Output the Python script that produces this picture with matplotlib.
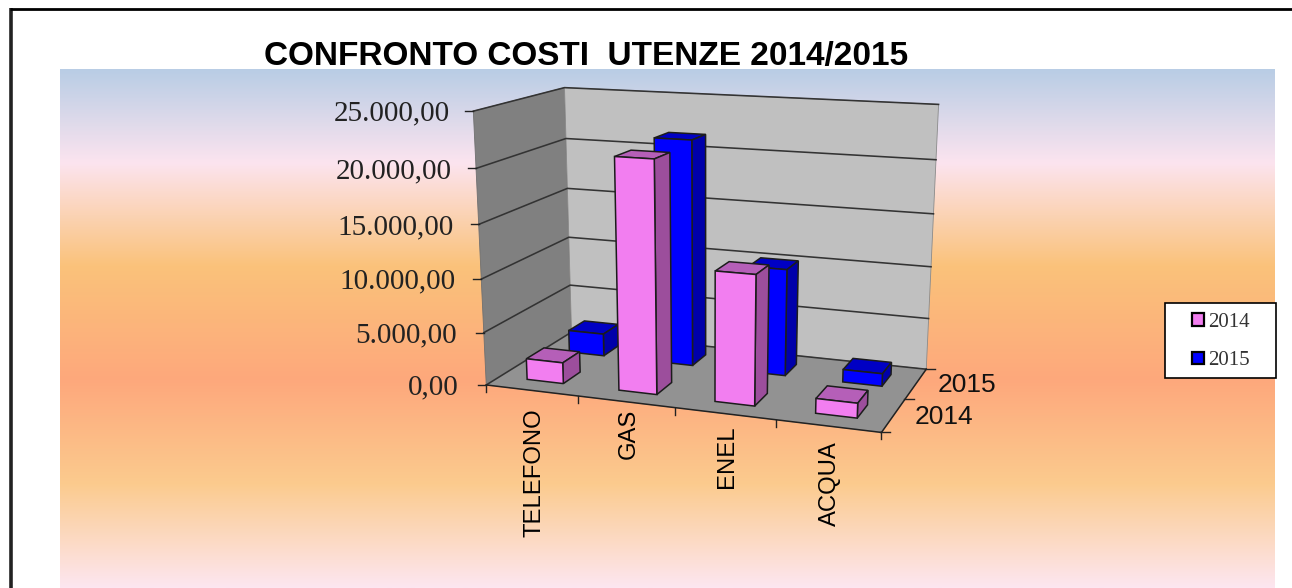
#!/usr/bin/env python3
import numpy as np
import matplotlib
matplotlib.use("Agg")
import matplotlib.pyplot as plt
from matplotlib.colors import LinearSegmentedColormap
from matplotlib.patches import Patch, Polygon, Rectangle

categories = ["TELEFONO", "GAS", "ENEL", "ACQUA"]
series_names = ["2014", "2015"]
costs_2014 = [2000, 21300, 11900, 1350]
costs_2015 = [2200, 21600, 10200, 1200]
y_ticks = [0, 5000, 10000, 15000, 20000, 25000]
y_tick_labels = ["0,00", "5.000,00", "10.000,00", "15.000,00", "20.000,00", "25.000,00"]
Z_MAX = 25000

# pixel positions of the plot box, used to fit the 3D view
calib_world = []
calib_px = []
left_front = [(473.3, 111.7), (476.7, 168.3), (478.3, 224), (481, 279), (484.3, 332.7), (486.7, 384.3)]
back_left = [(565, 87.7), (565.7, 138.3), (566.7, 187.7), (568.3, 236.7), (570, 285.7), (572.7, 332.7)]
back_right = [(939, 104.3), (936, 160), (933.3, 214), (930.7, 267.3), (928.3, 319), (926.7, 368.3)]
for (wx, wy), col in (((0, 0), left_front), ((0, 2), back_left), ((4, 2), back_right)):
    for k, p in enumerate(col):
        calib_world.append((wx, wy, 25000 - 5000 * k))
        calib_px.append(p)
for w, p in [((4, 0, 0), (882.7, 431.7)), ((1, 0, 0), (577.3, 396.7)), ((2, 0, 0), (674, 408.3)),
             ((3, 0, 0), (775, 420)), ((4, 1, 0), (905, 398.3))]:
    calib_world.append(w)
    calib_px.append(p)


def fit_camera(world, px):
    rows, rhs = [], []
    for (x, y, z), (u, v) in zip(world, px):
        z = z / Z_MAX
        rows.append([x, y, z, 1, 0, 0, 0, 0, -u * x, -u * y, -u * z])
        rhs.append(u)
        rows.append([0, 0, 0, 0, x, y, z, 1, -v * x, -v * y, -v * z])
        rhs.append(v)
    h = np.linalg.lstsq(np.array(rows), np.array(rhs), rcond=None)[0]
    return np.append(h, 1.0).reshape(3, 4)


CAM = fit_camera(calib_world, calib_px)


def proj(x, y, z):
    u, v, w = CAM @ np.array([x, y, z / Z_MAX, 1.0])
    return u / w, v / w


def poly(ax, pts, color, zorder=3, ec="#1c1c1c", lw=1.1):
    ax.add_patch(Polygon([proj(*p) for p in pts], closed=True, fc=color, ec=ec, lw=lw, zorder=zorder))


def draw_bar(ax, cat, row, value, colors, zorder):
    x0, x1 = cat + 0.3, cat + 0.7
    y0, y1 = row + 0.3, row + 0.7
    poly(ax, [(x0, y0, value), (x1, y0, value), (x1, y1, value), (x0, y1, value)], colors[1], zorder)
    poly(ax, [(x1, y0, 0), (x1, y1, 0), (x1, y1, value), (x1, y0, value)], colors[2], zorder)
    poly(ax, [(x0, y0, 0), (x1, y0, 0), (x1, y0, value), (x0, y0, value)], colors[0], zorder)


def main():
    fig = plt.figure(figsize=(12.92, 5.88), dpi=100, facecolor="white")
    ax = fig.add_axes([0, 0, 1, 1])
    ax.set_xlim(0, 1292)
    ax.set_ylim(588, 0)
    ax.axis("off")

    # chart area gradient
    cmap = LinearSegmentedColormap.from_list(
        "bg",
        [(0.0, "#B9CDE5"), (0.18, "#FCE4EF"), (0.38, "#FAC27A"), (0.6, "#FEA87C"),
         (0.8, "#FBCB8E"), (1.0, "#FDE6F0")],
    )
    grad = np.linspace(0, 1, 256).reshape(-1, 1)
    ax.imshow(grad, cmap=cmap, extent=(60, 1275, 588, 69), aspect="auto", zorder=0)
    ax.set_xlim(0, 1292)
    ax.set_ylim(588, 0)

    # outer frame, left and top only
    ax.plot([11, 11], [588, 8], color="#222222", lw=2.6, zorder=1, solid_capstyle="butt")
    ax.plot([10, 1292], [8.5, 8.5], color="black", lw=2.0, zorder=1, solid_capstyle="butt")

    # walls
    poly(ax, [(0, 0, 0), (0, 2, 0), (0, 2, Z_MAX), (0, 0, Z_MAX)], "#808080", 1, ec="#707070", lw=0.6)
    poly(ax, [(0, 2, 0), (4, 2, 0), (4, 2, Z_MAX), (0, 2, Z_MAX)], "#C0C0C0", 1, ec="#8a8a8a", lw=0.6)
    poly(ax, [(0, 0, 0), (4, 0, 0), (4, 2, 0), (0, 2, 0)], "#929292", 1, ec="#929292", lw=0.6)

    for t, lab in zip(y_ticks, y_tick_labels):
        pts = [proj(0, 0, t), proj(0, 2, t), proj(4, 2, t)]
        ax.plot(*zip(*pts), color="#333333", lw=1.15, zorder=2)
        u, v = pts[0]
        ax.plot([u - 8, u], [v, v], color="#222222", lw=1.0, zorder=2)
        ax.text(u - 23 - (u - 473) * 0.35, v + 2.5, lab, family="Liberation Serif", fontsize=21, ha="right",
                va="center", color="#222222")

    # floor edges and ticks
    ax.plot(*zip(proj(0, 0, 0), proj(4, 0, 0), proj(4, 2, 0)), color="#222222", lw=1.1, zorder=2)
    for i in range(5):
        u, v = proj(i, 0, 0)
        ax.plot([u, u], [v, v + 7], color="#222222", lw=1.0, zorder=2)
    for j in range(3):
        u, v = proj(4, j, 0)
        ax.plot([u - 1, u + 9], [v, v], color="#222222", lw=1.0, zorder=2)

    # bars, back row first
    pink = ("#F27EF0", "#B55FB8", "#9C4E9C")
    blue = ("#0000FF", "#0000C4", "#0000AA")
    for i, val in enumerate(costs_2015):
        draw_bar(ax, i, 1, val, blue, 3 + i * 0.1)
    for i, val in enumerate(costs_2014):
        draw_bar(ax, i, 0, val, pink, 4 + i * 0.1)

    # category labels
    label_top = [408, 409, 426, 441]
    for i, cat in enumerate(categories):
        u, _ = proj(i + 0.5, 0, 0)
        ax.text(u + 2.5, label_top[i], cat, family="Liberation Sans", fontsize=17.2, rotation=90,
                ha="center", va="top", color="black")

    # depth labels
    ax.text(967, 385.5, series_names[1], family="Liberation Sans", fontsize=19, ha="center", va="center", color="#111111")
    ax.text(944, 417.5, series_names[0], family="Liberation Sans", fontsize=19, ha="center", va="center", color="#111111")

    ax.text(586.5, 57, "CONFRONTO COSTI  UTENZE 2014/2015", family="Liberation Sans", fontsize=24,
            fontweight="bold", ha="center", va="center", color="black")

    # legend box is wider than the legend's own padding allows
    ax.add_patch(Rectangle((1165, 303), 111, 75, fc="white", ec="black", lw=1.2, zorder=5))
    handles = [Patch(fc=pink[0], ec="black", lw=1.6), Patch(fc=blue[0], ec="black", lw=1.6)]
    leg = ax.legend(
        handles, series_names, loc="center", bbox_to_anchor=(1221, 341.5), bbox_transform=ax.transData,
        frameon=False, handlelength=0.55, handleheight=0.55,
        handletextpad=0.2, labelspacing=0.95, borderpad=0, borderaxespad=0,
        prop={"family": "Liberation Serif", "size": 15},
    )
    leg.set_zorder(6)
    for t in leg.get_texts():
        t.set_color("#333333")

    fig.savefig("out.png", dpi=100)


if __name__ == "__main__":
    main()
